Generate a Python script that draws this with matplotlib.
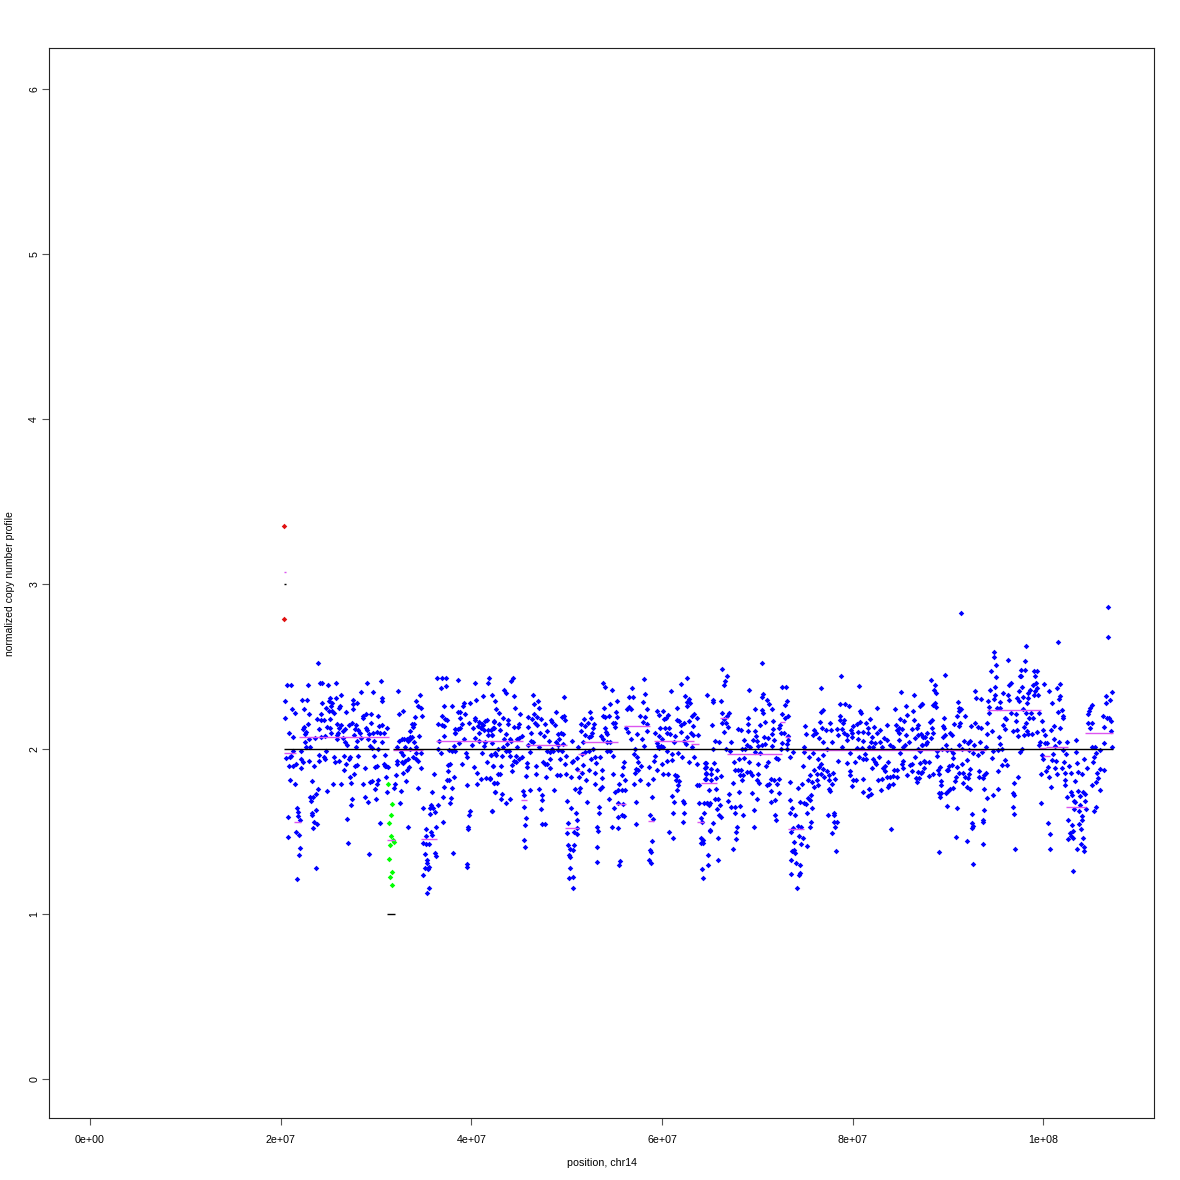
import matplotlib
matplotlib.use('Agg')
import matplotlib.pyplot as plt
import numpy as np

# positions in Mb, values are normalized copy number
blue_a = [(23.87,2.52),(20.62,2.39),(21.04,2.39),(22.83,2.39),(24.12,2.40),(24.29,2.40),(25.76,2.40),(24.96,2.39),(29.01,2.40),(30.52,2.41),(32.34,2.35),(34.6,2.33),(36.39,2.43),(36.88,2.43),(37.37,2.43),(38.56,2.42),(40.38,2.40),(41.84,2.43),(41.7,2.40),(36.81,2.37),(37.3,2.38),(42.16,2.33),
(20.48,2.29),(22.23,2.30),(22.76,2.30),(24.36,2.28),(25.17,2.31),(25.03,2.29),(25.83,2.31),(26.29,2.33),(25.34,2.28),(25.24,2.26),(24.75,2.25),(26.25,2.26),(26.11,2.25),(27.58,2.30),(27.62,2.27),(27.97,2.28),(27.55,2.24),(28.42,2.345),(29.68,2.345),(30.66,2.31),(30.66,2.29),(34.22,2.29),(34.43,2.26),(34.71,2.25),(32.79,2.23),(32.44,2.21),(34.82,2.20),(34.08,2.195),(37.09,2.26),(37.96,2.26),(39.19,2.28),(39.12,2.26),(39.89,2.28),(40.48,2.30),(41.25,2.32),
(21.18,2.24),(21.5,2.22),(22.44,2.24),(22.93,2.21),(20.45,2.19),(24.19,2.21),(23.84,2.18),(24.19,2.175),(24.54,2.175),(25.2,2.18),(25.06,2.23),(25.34,2.23),(25.59,2.22),(26.85,2.225),(28.63,2.20),(28.91,2.21),(28.59,2.185),(29.43,2.21),(30.24,2.20),(29.43,2.16),(30.27,2.14),(30.59,2.145),(31.18,2.13),
(22.86,2.15),(22.41,2.135),(22.3,2.12),(24.05,2.12),(22.69,2.105),(22.55,2.09),(20.9,2.095),(21.32,2.07),(24.89,2.135),(25.17,2.13),(25.94,2.15),(26.36,2.145),(26.11,2.13),(26.71,2.12),(26.5,2.11),(27.44,2.16),(27.13,2.145),(27.93,2.145),(27.79,2.12),(28.07,2.115),(28.91,2.13),(29.08,2.115),(28.31,2.10),(25.31,2.10),(26.01,2.10),(25.94,2.085),(27.72,2.085),(29.26,2.09),(29.64,2.095),(30.06,2.105),(30.41,2.10),(30.8,2.095),
(23.6,2.065),(22.97,2.06),(24.22,2.07),(24.68,2.08),(25.87,2.06),(26.57,2.065),(26.71,2.04),(27.97,2.05),(28.42,2.065),(29.19,2.06),(29.78,2.05),(30.62,2.04),(22.55,2.04),(22.62,2.015),(23.04,2.015),(26.99,2.025),(27.93,2.01),(29.33,2.02),(29.54,2.005),(30.24,2.0),(21.32,1.99),(22.13,1.99),(24.78,1.99),
(21.08,1.96),(20.52,1.945),(20.97,1.95),(22.13,1.94),(22.37,1.92),(23.0,1.93),(23.98,1.965),(23.98,1.93),(24.54,1.95),(24.61,1.94),(25.59,1.95),(25.73,1.92),(26.11,1.93),(26.6,1.96),(27.23,1.95),(27.2,1.94),(28.14,1.955),(29.75,1.96),(30.9,1.965),
(20.83,1.90),(21.25,1.895),(21.64,1.91),(22.09,1.885),(23.53,1.895),(26.81,1.91),(26.67,1.875),(27.79,1.895),(28.04,1.905),(28.84,1.885),(29.92,1.89),(30.06,1.90),(30.87,1.91),(31.04,1.90),(30.9,1.895),(31.25,1.89),(27.69,1.85),(27.3,1.83),(31.01,1.83),(20.97,1.81),(21.53,1.785),(23.25,1.805),(25.52,1.79),(26.36,1.79),(27.41,1.795),(28.59,1.79),(29.54,1.805),(29.36,1.80),(30.2,1.815),(30.06,1.785),(29.89,1.76),(31.11,1.74),
(23.91,1.76),(24.85,1.745),(23.67,1.725),(23.04,1.71),(23.35,1.71),(23.18,1.685),(27.48,1.70),(28.8,1.71),(29.19,1.68),(29.99,1.70),(27.34,1.66),(21.71,1.64),(21.81,1.62),(20.8,1.585),(21.81,1.595),(22.02,1.57),(23.32,1.61),(23.74,1.63),(23.28,1.60),(23.49,1.56),(23.77,1.545),(23.39,1.52),(26.92,1.575),(30.38,1.55),(21.6,1.495),(21.95,1.48),(20.76,1.465),(21.99,1.40),(21.92,1.36),(27.02,1.43),(29.22,1.365),(23.7,1.28),(21.71,1.215),
(32.41,2.05),(32.68,2.06),(32.96,2.06),(33.24,2.06),(33.56,2.07),(33.8,2.075),(33.56,2.06),(33.31,2.05),(33.77,2.15),(33.94,2.15),(33.87,2.135),(33.52,2.11),(34.54,2.08),(33.07,2.015),(33.98,2.04),(34.15,2.01),(32.16,2.01),(32.61,1.98),(32.86,1.965),(34.22,1.975),(34.68,1.975),(33.6,2.0),(32.16,1.93),(33.31,1.94),(33.03,1.93),(33.84,1.95),(34.15,1.94),(34.43,1.93),(32.68,1.92),(32.23,1.91),(32.86,1.915),(33.49,1.89),(33.21,1.87),(32.82,1.855),(34.75,1.885),(32.06,1.84),(33.17,1.805),(31.99,1.79),(31.92,1.765),(32.58,1.745),(34.4,1.765),(32.51,1.675),(35.83,1.74),(34.89,1.64),(33.38,1.53),
(35.76,1.66),(35.97,1.645),(35.69,1.64),(36.18,1.62),(36.46,1.66),(35.69,1.605),(35.2,1.517),(36.25,1.525),(36.99,1.56),(35.73,1.495),(35.9,1.48),(35.24,1.47),(34.92,1.43),(35.55,1.425),(35.2,1.425),(35.13,1.365),(36.18,1.37),(36.29,1.35),(35.34,1.33),(35.34,1.31),(35.1,1.28),(35.59,1.285),(35.45,1.27),(34.96,1.235),(35.52,1.16),(35.34,1.13),(38.03,1.37),(39.57,1.305),(39.57,1.285),
(37.23,2.18),(37.44,2.175),(36.88,2.20),(38.77,2.185),(38.63,2.225),(39.33,2.215),(38.84,2.225),(36.5,2.15),(36.88,2.145),(37.16,2.14),(36.64,2.05),(38.28,2.12),(38.56,2.12),(39.05,2.15),(38.28,2.10),(38.8,2.13),(39.78,2.16),(40.2,2.125),(40.38,2.19),(40.38,2.175),(40.8,2.165),(41.08,2.15),(41.42,2.17),(41.6,2.175),(41.25,2.145),(40.73,2.14),(41.0,2.13),(41.35,2.115),(41.77,2.115),(40.8,2.10),(41.77,2.085),(42.12,2.085),(42.4,2.165),(42.3,2.125),(37.16,2.08),(38.28,2.095),(39.22,2.06),(38.73,2.035),(40.38,2.065),(40.8,2.05),(41.42,2.045),(40.03,2.025),(41.35,2.02),
(37.68,1.995),(38.0,1.99),(38.28,1.985),(38.14,2.02),(36.53,2.0),(36.78,1.975),(39.43,1.975),(39.5,1.95),(41.08,1.975),(42.05,1.965),(42.47,1.975),(37.51,1.905),(37.75,1.91),(39.05,1.91),(40.27,1.89),(41.67,1.92),(42.26,1.895),(37.51,1.865),(40.59,1.855),(36.08,1.85),(37.47,1.815),(38.17,1.83),(37.61,1.81),(39.5,1.78),(40.55,1.79),(40.97,1.82),(41.49,1.825),(41.95,1.825),(42.37,1.795),(37.09,1.77),(37.96,1.765),(37.05,1.71),(37.86,1.705),(37.75,1.67),(42.47,1.74),(39.85,1.625),(39.75,1.6),(42.12,1.625),(39.68,1.53),(39.61,1.515)]

blue_b = [(44.36,2.43),(44.19,2.41),(43.42,2.36),(43.59,2.34),(44.47,2.32),(42.51,2.29),(44.57,2.25),(42.54,2.24),(42.93,2.22),(45.13,2.215),(43.31,2.185),(43.87,2.175),(42.4,2.17),(42.86,2.15),(43.87,2.15),(45.03,2.15),(44.47,2.135),(44.85,2.135),(42.4,2.13),(43.03,2.115),(42.02,2.115),(43.63,2.09),(42.12,2.085),(45.31,2.08),(44.99,2.065),(43.42,2.06),(44.05,2.06),(44.75,2.06),(42.19,2.035),(43.77,2.03),(44.12,2.05),(42.79,2.0),(43.28,2.01),(43.63,1.99),(43.98,1.99),(44.75,2.01),(42.02,1.965),(42.58,1.965),(43.21,1.96),(44.05,1.96),(44.68,1.955),(45.27,1.95),(44.99,1.94),(44.5,1.93),(44.68,1.92),(44.29,1.905),(42.26,1.895),(43.1,1.90),(44.26,1.865),(42.79,1.85),(43.0,1.85),(41.95,1.82),(42.37,1.795),(42.65,1.795),(42.47,1.74),(43.17,1.73),(43.1,1.70),(44.05,1.70),(43.63,1.67),(42.12,1.625),
(46.43,2.33),(46.98,2.29),(46.56,2.27),(47.12,2.25),(49.71,2.315),(48.87,2.225),(46.6,2.21),(45.94,2.195),(46.39,2.18),(46.88,2.195),(47.26,2.18),(49.5,2.195),(49.71,2.2),(49.78,2.175),(48.35,2.175),(46.67,2.16),(46.84,2.145),(47.68,2.15),(48.45,2.165),(48.77,2.145),(45.94,2.135),(47.89,2.11),(46.21,2.10),(47.16,2.10),(47.61,2.08),(49.05,2.09),(49.36,2.10),(49.64,2.09),(49.22,2.06),(50.52,2.05),(48.14,2.05),(48.84,2.04),(46.29,2.05),(46.5,2.04),(45.97,2.025),(47.12,2.01),(49.12,2.025),(49.64,2.03),(47.96,1.985),(48.24,1.98),(48.59,1.99),(49.12,1.995),(49.47,1.99),(46.14,1.98),(48.42,2.0),(49.92,1.955),(49.29,1.94),(48.24,1.94),(45.87,1.915),(45.83,1.89),(46.77,1.895),(47.47,1.92),(47.72,1.91),(47.96,1.91),(49.85,1.91),(48.24,1.885),(46.77,1.85),(45.76,1.835),(47.82,1.83),(48.98,1.84),(49.29,1.84),(49.92,1.85),(50.45,1.83),(47.05,1.76),(46.11,1.75),(48.63,1.75),(45.45,1.745),(45.48,1.72),(47.4,1.72),(47.37,1.69),(45.48,1.65),(47.33,1.635),(49.99,1.685),(50.41,1.64),(45.69,1.58),(45.62,1.54),(47.4,1.545),(47.68,1.545),(45.55,1.45),(45.59,1.405),
(50.93,1.61),(51.04,1.57),(50.13,1.55),(51.11,1.52),(50.79,1.50),(50.03,1.49),(51.11,1.485),(50.13,1.42),(50.72,1.42),(50.34,1.395),(50.62,1.39),(50.24,1.36),(50.34,1.345),(50.3,1.28),(50.27,1.22),(50.66,1.225),(50.69,1.155),
(52.44,2.225),(52.51,2.185),(51.81,2.18),(52.26,2.16),(51.49,2.15),(52.82,2.15),(51.91,2.14),(52.72,2.125),(51.49,2.11),(52.65,2.10),(51.95,2.085),(52.54,2.08),(52.3,2.07),(51.74,2.04),(51.21,2.015),(52.72,2.0),(52.3,1.99),(51.91,1.98),(51.6,1.97),(50.69,1.93),(51.11,1.945),(52.54,1.94),(52.99,1.95),(53.49,1.95),(50.52,1.92),(51.74,1.905),(53.03,1.915),(51.04,1.88),(51.56,1.855),(52.37,1.87),(53.0,1.855),(53.7,1.87),(51.32,1.83),(53.7,1.825),(52.02,1.81),(52.93,1.79),(53.7,1.77),(53.49,1.755),(50.86,1.76),(51.39,1.765),(51.32,1.74),(52.12,1.68),(53.35,1.65),(53.35,1.61),(53.17,1.525),(53.28,1.505),(53.14,1.405),(53.21,1.315),
(53.77,2.40),(53.98,2.375),(54.75,2.36),(55.23,2.29),(54.54,2.27),(53.91,2.25),(55.16,2.225),(53.84,2.20),(54.05,2.195),(54.47,2.20),(55.27,2.195),(54.82,2.155),(55.1,2.155),(55.06,2.135),(54.05,2.125),(54.15,2.105),(53.59,2.08),(54.26,2.09),(53.84,2.06),(54.19,2.04),(54.54,2.04),(54.26,1.99),(54.54,1.99),(54.82,1.955),(56.0,1.92),(55.9,1.89),(54.89,1.85),(55.83,1.84),(56.14,1.815),(55.48,1.79),(55.34,1.75),(55.06,1.74),(55.83,1.75),(56.11,1.75),(54.4,1.70),(55.41,1.67),(55.86,1.665),(54.96,1.64),(55.41,1.59),(55.79,1.60),(56.04,1.595),(54.71,1.525),(55.34,1.52),(55.62,1.32),(55.44,1.295),
(56.28,2.245),(56.53,2.255),(56.77,2.245),(56.49,2.315),(56.98,2.315),(56.88,2.37),(58.1,2.425),(58.2,2.335),(58.0,2.285),(58.38,2.24),(57.65,2.20),(58.24,2.195),(58.03,2.165),(58.38,2.15),(56.21,2.125),(56.42,2.105),(58.38,2.11),(57.4,2.09),(56.7,2.06),(57.86,2.06),(58.1,2.02),(57.16,2.0),(57.02,1.97),(57.33,1.95),(57.51,1.92),(57.79,1.90),(57.23,1.88),(57.51,1.87),(57.16,1.855),(58.63,1.89),(57.68,1.815),(57.05,1.79),(59.05,1.82),(58.56,1.79),(59.43,1.875),(59.15,1.925),(59.22,1.96),(57.23,1.68),(58.94,1.71),(57.26,1.545),(58.73,1.60),(59.08,1.575),(58.9,1.44),(58.73,1.39),(58.87,1.375),(58.66,1.325),(58.8,1.31),
(62.61,2.43),(61.98,2.395),(60.9,2.35),(62.4,2.32),(62.86,2.305),(62.58,2.285),(62.93,2.28),(62.65,2.26),(61.56,2.25),(60.09,2.23),(59.43,2.23),(59.71,2.205),(60.65,2.205),(60.41,2.19),(60.2,2.18),(61.53,2.175),(61.81,2.17),(63.17,2.2),(63.38,2.21),(63.63,2.19),(62.79,2.17),(62.33,2.155),(61.98,2.145),(60.27,2.13),(60.76,2.125),(59.78,2.125),(61.95,2.105),(63.2,2.14),(63.0,2.10),(63.28,2.085),(63.8,2.085),(60.55,2.10),(60.86,2.09),(61.35,2.08),(59.22,2.095),(59.64,2.08),(59.99,2.06),(62.58,2.07),(62.3,2.05),(61.28,2.04),(62.47,2.03),(63.14,2.015),(59.43,2.035),(59.6,2.02),(59.85,2.02),(60.13,2.015),(59.71,2.005),(60.48,1.985),(61.63,1.975),(62.05,1.95),(61.0,1.97),(60.55,1.93),(61.07,1.935),(59.95,1.91),(62.82,1.92),(63.38,1.95),(63.7,1.91),(60.09,1.85),(60.58,1.85),(61.39,1.84),(61.6,1.835),(61.46,1.81),(61.77,1.805),(61.7,1.78),(61.53,1.75),(61.07,1.715),(61.25,1.68),(62.16,1.685),(62.26,1.67),(61.18,1.615),(62.3,1.61),(62.16,1.555),(60.72,1.50),(61.14,1.46),
(63.63,1.78),(63.87,1.78),(63.9,1.675),(64.43,1.675),(64.74,1.675),(64.92,1.66),(64.4,1.615),(64.04,1.58),(64.15,1.56),(65.0,1.51),(64.04,1.46),(64.32,1.45),(64.04,1.43),(64.32,1.43),(64.85,1.36),(64.18,1.27),(64.82,1.30),(64.32,1.22),(64.67,2.325),(64.6,1.915),(64.53,1.885),(64.6,1.855),(64.57,1.82)]

blue_c = [(66.28,2.485),(66.77,2.44),(66.56,2.41),(66.46,2.385),(69.15,2.36),(65.3,2.295),(65.3,2.285),(66.21,2.29),(66.32,2.22),(67.02,2.22),(66.77,2.2),(66.53,2.18),(66.32,2.155),(66.74,2.155),(65.2,2.145),(66.88,2.135),(66.49,2.105),(65.55,2.05),(66.0,2.045),(65.37,2.0),(66.67,2.0),(67.19,2.04),(67.12,1.985),(64.5,1.915),(65.44,1.915),(65.13,1.88),(65.72,1.875),(64.57,1.89),(64.6,1.85),(65.13,1.85),(65.69,1.825),(66.14,1.835),(65.09,1.81),(64.53,1.82),(65.62,1.755),(64.92,1.75),(65.55,1.70),(65.83,1.70),(64.67,1.675),(64.99,1.67),(66.04,1.66),(65.79,1.635),(65.97,1.60),(66.14,1.59),(65.3,1.55),(64.99,1.505),(65.86,1.46),(65.9,1.325),
(67.93,2.12),(68.28,2.115),(69.04,2.185),(68.97,2.15),(69.04,2.11),(68.59,2.055),(69.74,2.11),(69.85,2.08),(69.5,2.055),(69.99,2.05),(68.87,2.025),(69.22,2.01),(68.35,2.0),(68.7,2.0),(70.09,2.02),(70.44,2.025),(70.79,2.03),(71.14,2.065),(70.69,2.07),(71.53,2.09),(71.74,2.055),(71.56,2.02),(69.74,1.98),(70.27,1.975),(67.54,1.92),(68.03,1.94),(68.63,1.945),(69.11,1.92),(70.02,1.91),(71.14,1.92),(70.86,1.895),(67.65,1.87),(67.93,1.875),(68.28,1.875),(68.17,1.845),(68.52,1.84),(68.87,1.86),(69.22,1.86),(69.46,1.84),(70.02,1.85),(69.92,1.81),(70.2,1.795),(67.4,1.795),(68.35,1.81),(71.39,1.82),(71.77,1.81),(72.26,1.82),(72.02,1.785),(71.25,1.785),(71.04,1.78),(71.39,1.745),(72.3,1.735),(68.1,1.74),(69.46,1.735),(69.92,1.70),(67.02,1.725),(66.95,1.685),(67.23,1.65),(67.61,1.65),(68.14,1.655),(71.46,1.68),(71.84,1.69),(69.64,1.63),(67.68,1.61),(68.49,1.60),(71.88,1.60),(71.98,1.57),(67.86,1.525),(67.79,1.50),(69.64,1.53),(67.72,1.455),(67.47,1.395),
(70.48,2.52),(72.54,2.375),(72.96,2.375),(70.58,2.335),(70.44,2.315),(70.97,2.30),(71.21,2.27),(73.07,2.29),(72.89,2.265),(69.78,2.245),(71.49,2.24),(70.44,2.235),(70.62,2.22),(72.61,2.215),(73.17,2.2),(72.89,2.185),(70.83,2.165),(71.6,2.17),(70.27,2.145),(72.4,2.145),(72.26,2.13),(71.67,2.12),(72.47,2.10),(72.82,2.095),(73.17,2.08),(73.17,2.055),(72.54,2.035),(73.07,2.03),(72.47,2.0),(73.07,2.0),(71.95,1.945),(72.19,1.94),(73.73,1.98),(73.38,1.95),(73.41,1.80),(74.25,1.765),(74.71,1.785),(74.74,1.895),(73.45,1.69),(74.43,1.68),(74.88,1.67),(75.13,1.665),(73.66,1.64),(73.38,1.61),(73.94,1.60),(75.23,1.61),(75.76,1.64),(75.3,1.705),(75.62,1.72),(75.55,1.69),(73.76,1.52),(74.29,1.535),(74.57,1.53),(73.52,1.50),(74.36,1.475),(74.78,1.46),(73.83,1.435),(74.57,1.425),(75.2,1.41),(73.87,1.39),(73.66,1.385),(73.94,1.37),(73.52,1.325),(74.08,1.31),(74.46,1.295),(73.52,1.24),(74.46,1.25),(74.32,1.235),(74.15,1.155),(75.62,1.555),(75.51,1.53),
(76.7,2.37),(78.76,2.44),(80.69,2.38),(78.66,2.27),(79.18,2.275),(79.57,2.26),(76.84,2.235),(76.63,2.225),(80.76,2.23),(80.86,2.22),(78.66,2.2),(78.62,2.175),(79.04,2.175),(81.77,2.18),(80.72,2.165),(76.53,2.165),(77.61,2.155),(74.99,2.14),(79.01,2.155),(80.48,2.15),(81.42,2.155),(82.26,2.135),(80.06,2.14),(76.77,2.125),(75.93,2.115),(78.38,2.12),(78.83,2.12),(77.68,2.115),(77.16,2.115),(79.78,2.115),(81.56,2.125),(82.82,2.115),(75.09,2.09),(75.86,2.085),(76.11,2.10),(78.48,2.085),(79.04,2.10),(79.36,2.085),(79.95,2.095),(80.51,2.105),(81.04,2.105),(81.63,2.10),(81.98,2.075),(82.5,2.10),(76.46,2.065),(77.78,2.045),(76.91,2.04),(79.36,2.055),(79.88,2.075),(80.58,2.06),(81.1,2.05),(81.88,2.045),(82.33,2.035),(82.85,2.045),
(77.26,2.0),(78.9,2.01),(74.92,2.01),(74.88,1.98),(75.86,1.975),(79.74,1.975),(80.41,2.005),(80.93,2.005),(81.7,2.015),(82.15,2.01),(83.03,2.01),(76.91,1.965),(76.39,1.94),(75.41,1.95),(80.65,1.95),(81.28,1.97),(81.04,1.94),(81.42,1.94),(82.15,1.94),(82.71,1.95),(83.73,1.92),(80.27,1.92),(78.45,1.925),(79.36,1.915),(82.33,1.92),(82.43,1.91),(76.67,1.91),(76.46,1.89),(75.9,1.87),(76.91,1.88),(81.98,1.885),(77.33,1.865),(77.89,1.855),(79.74,1.865),(83.38,1.90),(83.2,1.885),(83.38,1.865),(75.48,1.845),(76.21,1.85),(76.67,1.85),(79.74,1.84),(77.02,1.83),(77.5,1.84),(78.13,1.82),(75.34,1.81),(75.69,1.80),(76.21,1.81),(77.54,1.81),(80.02,1.81),(80.3,1.81),(81.07,1.82),(82.68,1.81),(83.1,1.82),(77.85,1.785),(75.97,1.77),(76.35,1.78),(79.88,1.775),(77.5,1.76),(77.64,1.745),(81.04,1.74),(81.7,1.755),(81.63,1.715),(81.88,1.725),(83.0,1.75),(78.03,1.61),(77.44,1.60),(78.06,1.60),(78.06,1.56),(78.31,1.56),(78.17,1.53),(77.85,1.49),(78.24,1.385),(84.0,1.515),
(85.02,2.345),(86.38,2.33),(85.58,2.26),(87.22,2.275),(87.05,2.26),(84.43,2.245),(82.54,2.25),(85.72,2.205),(86.31,2.23),(84.95,2.18),(85.41,2.17),(86.42,2.175),(83.55,2.145),(84.5,2.145),(86.8,2.145),(84.85,2.125),(85.13,2.12),(86.24,2.12),(86.7,2.125),(84.67,2.115),(84.85,2.095),(85.58,2.085),(86.87,2.085),(87.4,2.075),(86.52,2.065),(84.85,2.055),(83.31,2.065),(83.55,2.055),(85.9,2.045),(85.48,2.025),(83.9,2.025),(87.22,2.025),(84.18,2.015),(85.3,2.01),(86.87,2.0),(84.95,1.975),(86.52,1.95),(85.3,1.925),(85.13,1.91),(86.0,1.905),(86.24,1.91),(87.5,1.925),(84.6,1.875),(84.29,1.87),(85.3,1.885),(86.17,1.865),(86.87,1.86),(87.22,1.86),(84.67,1.83),(85.65,1.84),(83.62,1.83),(83.94,1.83),(84.25,1.835),(86.59,1.825),(86.9,1.825),(86.73,1.80),(84.25,1.79),(83.83,1.78),(83.66,1.77)]

blue_d = [(106.77,2.86),(106.77,2.68),(91.31,2.825),(101.49,2.65),(98.17,2.625),(94.85,2.585),(94.81,2.56),(96.31,2.54),(98.06,2.535),(95.02,2.51),(94.46,2.475),(97.61,2.48),(98.03,2.48),(99.0,2.47),(99.29,2.47),(89.64,2.45),(95.06,2.435),(97.64,2.445),(97.5,2.44),(99.11,2.44),(88.2,2.42),(88.59,2.385),(88.52,2.36),(88.76,2.34),(96.59,2.40),(96.35,2.39),(94.95,2.375),(94.39,2.355),(92.85,2.35),(97.75,2.375),(98.87,2.39),(99.25,2.40),(98.59,2.36),(100.02,2.395),(99.29,2.37),(99.11,2.35),(98.41,2.34),(99.39,2.33),(98.97,2.325),(100.58,2.35),(101.45,2.37),(101.73,2.395),(96.28,2.325),(97.4,2.35),(95.75,2.34),(94.92,2.33),(93.48,2.305),(92.92,2.31),(94.22,2.29),(94.78,2.305),(95.48,2.285),(96.42,2.30),(97.19,2.31),(97.89,2.315),(98.41,2.31),(97.43,2.29),(98.24,2.28),(100.89,2.28),(101.73,2.32),(101.59,2.305),(107.22,2.345),(106.52,2.277),(106.94,2.30),(106.56,2.32),(87.22,2.27),(91.0,2.285),(88.59,2.28),(88.38,2.265),(88.69,2.257),(91.18,2.25),(91.35,2.24),(91.1,2.23),(90.9,2.20),(91.77,2.20),(94.29,2.257),(95.16,2.25),(95.44,2.25),(94.29,2.22),(96.56,2.22),(97.12,2.21),(97.82,2.24),(98.13,2.216),(98.69,2.22),(99.5,2.22),(101.56,2.226),(101.91,2.236),(102.01,2.2),(102.08,2.186),(105.09,2.265),(104.88,2.25),(104.81,2.23),(104.7,2.21),
(95.96,2.19),(96.07,2.18),(97.08,2.17),(98.52,2.19),(98.94,2.19),(99.81,2.17),(106.28,2.2),(106.63,2.19),(106.9,2.186),(107.08,2.17),(88.31,2.176),(88.1,2.166),(89.57,2.186),(88.27,2.13),(89.5,2.14),(89.57,2.125),(90.65,2.154),(91.28,2.158),(91.1,2.14),(92.4,2.14),(92.85,2.158),(93.1,2.133),(93.45,2.127),(94.08,2.156),(94.57,2.11),(95.79,2.145),(95.96,2.12),(96.77,2.11),(97.26,2.117),(98.2,2.156),(97.96,2.133),(98.31,2.107),(98.8,2.09),(99.29,2.105),(99.92,2.115),(100.79,2.115),(101.07,2.14),(101.7,2.13),(104.7,2.156),(105.12,2.156),(106.35,2.133),(104.88,2.125),(107.05,2.107),
(87.12,2.09),(87.82,2.095),(88.41,2.1),(87.33,2.075),(87.61,2.07),(88.17,2.065),(87.75,2.045),(87.22,2.025),(87.64,2.03),(89.67,2.085),(89.5,2.075),(90.2,2.095),(90.44,2.087),(91.66,2.05),(92.29,2.05),(92.12,2.035),(92.75,2.025),(93.34,2.043),(93.94,2.014),(95.34,2.07),(94.11,2.09),(95.44,2.032),(95.2,1.996),(95.65,2.0),(94.67,1.988),(97.33,2.079),(97.92,2.087),(98.41,2.09),(100.2,2.083),(99.64,2.045),(99.57,2.026),(100.16,2.035),(100.4,2.035),(101.1,2.06),(101.63,2.045),(103.38,2.055),(102.5,2.045),(101.17,2.02),(102.05,1.994),(97.54,1.984),(97.71,2.0),(105.05,2.014),(105.4,2.014),(106.35,2.034),(107.15,2.014),(105.93,1.994),(105.47,1.978),(103.41,1.984),(89.36,2.0),(88.87,1.988),(89.85,1.994),(90.27,1.994),(90.55,1.978),(91.18,2.024),(91.49,2.0),(92.19,1.994),(92.64,1.974),(93.1,1.964),(93.52,1.984),(88.83,1.96),(89.74,2.022),(87.05,1.99),
(90.55,1.947),(91.94,1.932),(95.62,1.905),(96.0,1.933),(96.17,1.905),(94.64,1.944),(99.98,1.937),(99.81,1.964),(101.0,1.972),(100.86,1.936),(101.31,1.927),(102.36,1.968),(102.15,1.921),(102.71,1.899),(103.55,1.913),(104.22,1.939),(104.53,1.883),(105.33,1.954),(105.23,1.919),(87.05,1.913),(87.54,1.923),(87.96,1.919),(87.5,1.887),(89.15,1.893),(90.13,1.9),(90.37,1.903),(90.97,1.893),(91.42,1.907),(90.02,1.873),(89.85,1.873),(88.9,1.873),(88.45,1.847),(87.99,1.836),(87.15,1.857),(89.08,1.849),(91.18,1.857),(91.6,1.853),(92.19,1.849),(92.29,1.879),(91.77,1.832),(92.05,1.822),(93.24,1.869),(93.97,1.857),(93.27,1.832),(93.69,1.826),(93.8,1.843),(95.27,1.865),(97.33,1.83),(99.71,1.85),(100.26,1.865),(100.51,1.891),(101.21,1.887),(101.91,1.887),(101.38,1.847),(102.26,1.855),(102.92,1.853),(103.59,1.861),(104.04,1.847),(100.54,1.83),(105.93,1.879),(106.35,1.873),(105.61,1.853),(105.75,1.822),(105.51,1.798),(105.12,1.782),(90.79,1.832),(90.72,1.806),(91.52,1.796),(89.25,1.806),(89.25,1.782),(96.91,1.796),(102.26,1.812),(102.26,1.784),(103.27,1.806),(100.79,1.77),(105.93,1.752),(91.94,1.768),(92.29,1.76),(90.55,1.761),(90.2,1.756),(90.02,1.745),(89.78,1.735),(93.8,1.758),(95.23,1.76),(89.04,1.735),(89.25,1.731),(89.18,1.711),(96.8,1.731),(96.87,1.721),(94.71,1.723),(94.04,1.705),(102.89,1.741),(102.96,1.721),(103.66,1.745),(104.18,1.737),(104.35,1.725),(102.43,1.709),(103.8,1.715),(104.39,1.685),(103.17,1.687),(103.31,1.677),
(89.88,1.655),(90.9,1.645),(96.84,1.647),(99.74,1.675),(103.83,1.659),(105.47,1.651),(105.26,1.626),(103.24,1.634),(103.69,1.626),(104.42,1.634),(93.73,1.63),(92.5,1.608),(96.94,1.604),(104.0,1.596),(102.61,1.572),(104.07,1.568),(93.69,1.57),(93.62,1.56),(92.47,1.55),(92.57,1.535),(92.47,1.52),(100.44,1.554),(102.99,1.539),(103.76,1.546),(103.94,1.515),(103.13,1.505),(102.75,1.489),(100.68,1.483),(102.89,1.473),(90.83,1.465),(103.1,1.46),(104.11,1.46),(102.57,1.455),(91.98,1.445),(93.66,1.424),(103.9,1.426),(104.2,1.408),(100.72,1.394),(97.01,1.396),(103.52,1.394),(104.29,1.382),(89.04,1.374),(92.57,1.303),(103.06,1.263)]

green_points = [(31.71,1.665),(31.29,1.786),(31.57,1.60),(31.36,1.55),(31.53,1.473),(31.81,1.448),(31.88,1.434),(31.43,1.418),(31.39,1.333),(31.67,1.255),(31.46,1.222),(31.64,1.176)]
red_points = [(20.35,3.35),(20.38,2.79)]

# segments: start, end, value
call_segments = [(20.3,20.6,3.0),(20.35,31.36,2.0),(31.18,31.95,1.0),(31.78,107.3,2.0)]
seg_segments = [(20.3,20.6,3.07),(20.35,21.6,1.974),(21.95,31.36,2.07),(21.43,22.13,1.556),(31.18,31.99,1.447),(31.78,34.88,1.992),(34.71,36.43,1.453),(36.29,45.38,2.047),(45.73,50.03,2.022),(45.2,45.86,1.689),(49.85,51.32,1.519),(51.1,51.5,1.868),(51.2,51.9,1.967),(51.7,55.4,2.04),(55.17,56.2,1.665),(56.04,58.7,2.137),(58.52,59.2,1.562),(59.1,63.34,2.047),(63.03,63.9,2.028),(63.7,64.36,1.556),(64.1,65.8,1.792),(66.84,72.56,1.968),(66.07,66.87,2.19),(72.4,72.9,2.161),(72.9,73.45,2.07),(73.25,74.9,1.513),(74.77,94.0,1.992),(94.03,99.7,2.234),(99.52,100.26,2.008),(100.26,102.6,2.01),(99.9,100.7,1.96),(102.36,104.5,1.646),(104.35,107.3,2.095)]

x_ticks = [0, 2e7, 4e7, 6e7, 8e7, 1e8]
x_tick_labels = ['0e+00', '2e+07', '4e+07', '6e+07', '8e+07', '1e+08']
y_ticks = [0, 1, 2, 3, 4, 5, 6]

plt.rcParams['font.family'] = ['Liberation Sans', 'DejaVu Sans']

fig = plt.figure(figsize=(11.8, 11.8), dpi=100)
ax = fig.add_axes([49 / 1180, 62 / 1180, 1105 / 1180, 1070 / 1180])


def draw_points(points, color, size):
    data = np.array(points)
    ax.scatter(data[:, 0] * 1e6, data[:, 1], marker='D', s=size, c=color,
               linewidths=0, zorder=2)


draw_points(blue_a + blue_b + blue_c + blue_d, '#0000ff', 8)
draw_points(green_points, '#00ff00', 8)
draw_points(red_points, '#e01010', 8)

for start, end, value in seg_segments:
    ax.plot([start * 1e6, end * 1e6], [value, value], color='#dc55f0', lw=1.0,
            solid_capstyle='butt', zorder=3)
for start, end, value in call_segments:
    ax.plot([start * 1e6, end * 1e6], [value, value], color='black', lw=1.0,
            solid_capstyle='butt', zorder=4)

ax.set_xlim(-4.3e6, 111.59e6)
ax.set_ylim(-0.236, 6.248)
ax.set_xticks(x_ticks)
ax.set_xticklabels(x_tick_labels)
ax.set_yticks(y_ticks)
ax.tick_params(axis='x', length=5, width=0.8, color='#555555', pad=7.5, labelsize=7.7)
ax.tick_params(axis='y', length=5, width=0.8, color='#555555', pad=2, labelsize=7.7)
for label in ax.get_yticklabels():
    label.set_rotation(90)
    label.set_va('center')
for spine in ax.spines.values():
    spine.set_linewidth(0.8)
    spine.set_color('#222222')

fig.text(602 / 1180, 1 - 1163 / 1180, 'position, chr14', ha='center', va='center', fontsize=7.7)
fig.text(10 / 1180, 1 - 584 / 1180, 'normalized copy number profile', rotation=90,
         ha='center', va='center', fontsize=7.5)

fig.savefig('out.png', dpi=100)
